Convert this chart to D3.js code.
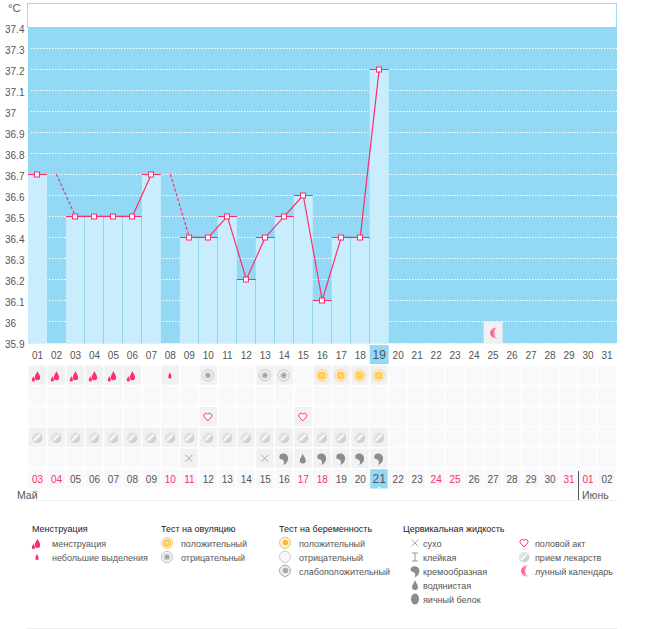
<!DOCTYPE html>
<html>
<head>
<meta charset="utf-8">
<script src="https://cdnjs.cloudflare.com/ajax/libs/d3/7.8.5/d3.min.js"></script>
<style>
html, body { margin: 0; padding: 0; background: #fff; }
svg { display: block; }
text { font-family: "Liberation Sans", sans-serif; font-size: 10px; fill: #555; }
text.legend { font-size: 9px; }
</style>
</head>
<body>
<div id="chart"></div>
<script>
// chart data
var days = d3.range(1, 32);
var dayLabels = ['01','02','03','04','05','06','07','08','09','10','11','12','13','14','15','16','17','18','19','20','21','22','23','24','25','26','27','28','29','30','31'];
var dateLabels = ['03','04','05','06','07','08','09','10','11','12','13','14','15','16','17','18','19','20','21','22','23','24','25','26','27','28','29','30','31','01','02'];
var redDates = ['03','04','10','11','17','18','24','25','31','01'];
var temps = [36.7,null,36.5,36.5,36.5,36.5,36.7,null,36.4,36.4,36.5,36.2,36.4,36.5,36.6,36.1,36.4,36.4,37.2];
var tempTicks = [37.4,37.3,37.2,37.1,37,36.9,36.8,36.7,36.6,36.5,36.4,36.3,36.2,36.1,36,35.9];
var gridTicks = [37.3,37.2,37.1,37,36.9,36.8,36.7,36.6,36.5,36.4,36.3,36.2,36.1,36,35.9];
var currentDay = 19;
var moonDays = [25];

// icon rows below the chart: [day, icon]
var rowOvulation = [[1,'menses'],[2,'menses'],[3,'menses'],[4,'menses'],[5,'menses'],[6,'menses'],[8,'spot'],[10,'ovNeg'],[13,'ovNeg'],[14,'ovNeg'],[16,'ovPos'],[17,'ovPos'],[18,'ovPos'],[19,'ovPos']];
var rowPregnancy = [];
var rowSex = [[10,'heart'],[15,'heart']];
var rowPills = d3.range(1, 20).map(function(d) { return [d, 'pill']; });
var rowFluid = [[9,'dry'],[13,'dry'],[14,'cream'],[15,'water'],[16,'cream'],[17,'cream'],[18,'cream'],[19,'cream']];

var legendGroups = [
    { title: 'Менструация', x: 32, iconX: 37, textX: 52, items: [['menses','менструация'],['spot','небольшие выделения']] },
    { title: 'Тест на овуляцию', x: 161, iconX: 167, textX: 181, items: [['ovPos','положительный'],['ovNeg','отрицательный']] },
    { title: 'Тест на беременность', x: 279, iconX: 285, textX: 299, items: [['pregPos','положительный'],['pregNeg','отрицательный'],['pregWeak','слабоположительный']] },
    { title: 'Цервикальная жидкость', x: 403, iconX: 415, textX: 423, items: [['dry','сухо'],['sticky','клейкая'],['cream','кремообразная'],['water','водянистая'],['egg','яичный белок']] },
    { title: '', x: 524, iconX: 524, textX: 535, items: [['heart','половой акт'],['pill','прием лекарств'],['moon','лунный календарь']] }
];

var pink = '#ff2d6b',
    sky = '#93d9f6',
    barBlue = '#caedfe',
    sepBlue = '#8fd5ee';

var svg = d3.select('#chart').append('svg').attr('width', 655).attr('height', 629);

// gradients for the round icons
var defs = svg.append('defs');
function radial(id, inner, outer) {
    var g = defs.append('radialGradient').attr('id', id);
    g.append('stop').attr('offset', '0%').attr('stop-color', inner);
    g.append('stop').attr('offset', '100%').attr('stop-color', outer);
}
radial('ovPosFill', '#ffe28c', '#ffbf42');
radial('ovNegFill', '#8f8f8f', '#dcdcdc');
var pillFill = defs.append('linearGradient').attr('id', 'pillFill').attr('x1', 0).attr('y1', 0).attr('x2', 1).attr('y2', 1);
pillFill.append('stop').attr('offset', '0%').attr('stop-color', '#f0f0f0');
pillFill.append('stop').attr('offset', '100%').attr('stop-color', '#c4c4c4');
var moonFill = defs.append('linearGradient').attr('id', 'moonFill');
moonFill.append('stop').attr('offset', '0%').attr('stop-color', '#ff3f78');
moonFill.append('stop').attr('offset', '100%').attr('stop-color', '#ffc4d6');

var x = d3.scaleBand().domain(days).range([28, 616.5]);
var y = d3.scaleLinear().domain([37.4, 35.9]).range([27, 342.5]);
var cx = function(d) { return x(d) + x.bandwidth() / 2; };

// plot background
svg.append('rect').attr('x', 27.5).attr('y', 3.5).attr('width', 589).attr('height', 24).attr('fill', '#fff').attr('stroke', '#9cdcf6');
svg.append('rect').attr('x', 28).attr('y', y(37.4)).attr('width', 589).attr('height', y(35.9) - y(37.4) + 1).attr('fill', sky);

svg.append('g').selectAll('line').data(gridTicks).join('line')
    .attr('x1', 31).attr('x2', 617)
    .attr('y1', function(d) { return Math.round(y(d)) + 0.5; })
    .attr('y2', function(d) { return Math.round(y(d)) + 0.5; })
    .attr('stroke', '#fff').attr('stroke-dasharray', '1.5 1.5');

// temperature labels
svg.append('g').selectAll('text').data(tempTicks).join('text')
    .attr('x', 5).attr('y', function(d) { return y(d) + 5.5; })
    .text(function(d) { return d; });
svg.append('text').attr('x', 8).attr('y', 12).style('font-size', '11px').text('°C');

// bars
var known = temps.map(function(t, i) { return { day: i + 1, t: t }; }).filter(function(d) { return d.t !== null; });
svg.append('g').selectAll('rect').data(known).join('rect')
    .attr('x', function(d) { return x(d.day); })
    .attr('y', function(d) { return y(d.t); })
    .attr('width', x.bandwidth())
    .attr('height', function(d) { return y(35.9) - y(d.t) + 1; })
    .attr('fill', barBlue);
svg.append('g').selectAll('line').data(known.filter(function(d) { return temps[d.day] !== null && temps[d.day] !== undefined; })).join('line')
    .attr('x1', function(d) { return Math.round(x(d.day + 1)) - 0.5; })
    .attr('x2', function(d) { return Math.round(x(d.day + 1)) - 0.5; })
    .attr('y1', function(d) { return y(Math.min(d.t, temps[d.day])); })
    .attr('y2', y(35.9) + 1)
    .attr('stroke', sepBlue);

// line with dashed pieces across the skipped days
var segments = [];
known.forEach(function(d, i) {
    var next = known[i + 1];
    if (!next) return;
    if (next.day === d.day + 1) {
        segments.push({ x1: cx(d.day), y1: y(d.t), x2: cx(next.day), y2: y(next.t), dash: null });
    } else {
        segments.push({ x1: cx(d.day + 1), y1: y(d.t), x2: cx(next.day), y2: y(next.t), dash: '3 2' });
    }
});
svg.append('g').selectAll('line').data(segments).join('line')
    .attr('x1', function(d) { return d.x1; }).attr('y1', function(d) { return d.y1; })
    .attr('x2', function(d) { return d.x2; }).attr('y2', function(d) { return d.y2; })
    .attr('stroke', pink).attr('stroke-width', 1.2)
    .attr('stroke-dasharray', function(d) { return d.dash; });

svg.append('g').selectAll('line').data(known).join('line')
    .attr('x1', function(d) { return x(d.day); })
    .attr('x2', function(d) { return x(d.day) + x.bandwidth(); })
    .attr('y1', function(d) { return Math.round(y(d.t)) + 0.5; })
    .attr('y2', function(d) { return Math.round(y(d.t)) + 0.5; })
    .attr('stroke', pink);

svg.append('g').selectAll('rect').data(known).join('rect')
    .attr('x', function(d) { return Math.round(cx(d.day)) - 2.5; })
    .attr('y', function(d) { return Math.round(y(d.t)) - 2; })
    .attr('width', 5).attr('height', 5)
    .attr('fill', '#fff').attr('stroke', pink);

// icons, all drawn around 0,0
var icons = {
    menses: function(g) {
        g.append('path').attr('d', 'M0.5,-4.5C1,-2.5 3.2,-0.8 3.2,2.2A2.7,2.7 0 0 1 -2.2,2.2C-2.2,-0.5 0,-2.5 0.5,-4.5Z').attr('fill', pink);
        g.append('path').attr('d', 'M-3.5,0.5C-3.2,2 -2,2.8 -2,4.6A1.6,1.6 0 0 1 -5.2,4.6C-5.2,2.8 -3.8,2 -3.5,0.5Z').attr('fill', pink);
    },
    spot: function(g) {
        g.append('path').attr('d', 'M0,-3.5C0.3,-2 1.6,-0.5 1.6,1.5A1.6,1.6 0 0 1 -1.6,1.5C-1.6,-0.5 -0.3,-2 0,-3.5Z').attr('fill', pink);
    },
    ovPos: function(g) {
        g.append('circle').attr('r', 5.6).attr('fill', '#fff8e4').attr('stroke', '#f8cf80');
        g.append('circle').attr('r', 4).attr('fill', 'url(#ovPosFill)');
    },
    ovNeg: function(g) {
        g.append('circle').attr('r', 5.6).attr('fill', '#f6f6f6').attr('stroke', '#c4c4c4');
        g.append('circle').attr('r', 3.6).attr('fill', 'url(#ovNegFill)');
    },
    pregPos: function(g) {
        g.append('path').attr('d', 'M0,6L-4,3.5A5.5,5.5 0 1 1 4,3.5Z').attr('fill', '#fff2cf').attr('stroke', '#f2c264');
        g.append('circle').attr('cx', 0.5).attr('cy', -0.5).attr('r', 2.8).attr('fill', '#f8b83e');
    },
    pregNeg: function(g) {
        g.append('path').attr('d', 'M0,6L-4,3.5A5.5,5.5 0 1 1 4,3.5Z').attr('fill', '#f8f8f8').attr('stroke', '#ccc');
    },
    pregWeak: function(g) {
        g.append('path').attr('d', 'M0,6L-4,3.5A5.5,5.5 0 1 1 4,3.5Z').attr('fill', '#eee').attr('stroke', '#aaa');
        g.append('circle').attr('cx', 0.5).attr('cy', -0.5).attr('r', 2.8).attr('fill', '#aaa');
    },
    heart: function(g) {
        g.append('path').attr('d', 'M0,4L-3.6,0A2.1,2.1 0 0 1 0,-2.6A2.1,2.1 0 0 1 3.6,0Z').attr('fill', '#fff').attr('stroke', pink);
    },
    pill: function(g) {
        g.append('circle').attr('r', 5.4).attr('fill', 'url(#pillFill)');
        g.append('line').attr('x1', -3).attr('y1', 3).attr('x2', 3).attr('y2', -3).attr('stroke', '#fff').attr('stroke-width', 1.6);
    },
    dry: function(g) {
        g.append('path').attr('d', 'M-3.5,-3.5L3.5,3.5M3.5,-3.5L-3.5,3.5').attr('stroke', '#aaa').attr('fill', 'none');
    },
    sticky: function(g) {
        g.append('path').attr('d', 'M-3,-4H3M0,-4V4M-3,4H3').attr('stroke', '#999').attr('fill', 'none');
    },
    cream: function(g) {
        g.append('path').attr('d', 'M-4.5,-1.5C-4.5,-5 1,-6 3.5,-3C5.5,0 4,5 -0.5,6.5C1,4 0,1.5 -1.5,1C-3,1 -4.5,0 -4.5,-1.5Z').attr('fill', '#8c8c8c');
    },
    water: function(g) {
        g.append('path').attr('d', 'M0,-5C0.5,-2.5 3,-0.5 3,2A3,3 0 0 1 -3,2C-3,-0.5 -0.5,-2.5 0,-5Z').attr('fill', '#8c8c8c');
    },
    egg: function(g) {
        g.append('ellipse').attr('rx', 4).attr('ry', 5.5).attr('fill', '#8c8c8c');
    },
    moon: function(g) {
        g.append('path').attr('d', 'M4,-5.2A5.4,5.4 0 1 0 4,5.2C0.5,3.5 0.5,-3.5 4,-5.2Z').attr('fill', 'url(#moonFill)');
    }
};

function drawIcon(sel, name, px, py) {
    var g = sel.append('g').attr('transform', 'translate(' + px + ',' + py + ')');
    icons[name](g);
}

// moon cell inside the chart
moonDays.forEach(function(d) {
    svg.append('rect').attr('x', x(d)).attr('y', y(36)).attr('width', x.bandwidth()).attr('height', y(35.9) - y(36) + 1).attr('fill', '#f1f1f3');
    drawIcon(svg, 'moon', cx(d), y(35.95) + 1);
});

// day labels
svg.append('rect').attr('x', x(currentDay)).attr('y', 345).attr('width', x.bandwidth()).attr('height', 19).attr('fill', sky);
svg.append('g').selectAll('text').data(days).join('text')
    .attr('x', cx).attr('y', 358.5).attr('text-anchor', 'middle')
    .style('font-size', function(d) { return d === currentDay ? '12px' : null; })
    .text(function(d) { return dayLabels[d - 1]; });

// icon rows
var rows = [rowOvulation, rowPregnancy, rowSex, rowPills, rowFluid];
var rowY = d3.scaleBand().domain(d3.range(6)).range([365.5, 490]);
rows.forEach(function(row, r) {
    var used = {};
    row.forEach(function(e) { used[e[0]] = e[1]; });
    svg.append('g').selectAll('rect').data(days).join('rect')
        .attr('x', function(d) { return x(d) + 0.5; })
        .attr('y', rowY(r))
        .attr('width', x.bandwidth() - 1.5).attr('height', rowY.bandwidth() - 1.5)
        .attr('fill', function(d) { return used[d] ? '#f1f1f3' : '#f9f8fa'; });
    row.forEach(function(e) {
        drawIcon(svg, e[1], cx(e[0]) - 0.5, rowY(r) + rowY.bandwidth() / 2 - 0.5);
    });
});

// calendar dates row
svg.append('g').selectAll('rect').data(days).join('rect')
    .attr('x', function(d) { return x(d) + 0.5; })
    .attr('y', rowY(5))
    .attr('width', x.bandwidth() - 1.5).attr('height', rowY.bandwidth() - 1.5)
    .attr('fill', function(d) { return d === currentDay ? sky : '#f9f8fa'; });
svg.append('g').selectAll('text').data(days).join('text')
    .attr('x', cx).attr('y', 482.5).attr('text-anchor', 'middle')
    .style('fill', function(d) { return redDates.indexOf(dateLabels[d - 1]) >= 0 ? pink : null; })
    .style('font-size', function(d) { return d === currentDay ? '12px' : null; })
    .text(function(d) { return dateLabels[d - 1]; });

// small notch under the current date
svg.append('path')
    .attr('d', d3.line()([[cx(currentDay) - 2, rowY(5) + rowY.bandwidth() - 1.5], [cx(currentDay), rowY(5) + rowY.bandwidth() - 3.5], [cx(currentDay) + 2, rowY(5) + rowY.bandwidth() - 1.5]]))
    .attr('fill', '#fff');

svg.append('line').attr('x1', 578.5).attr('x2', 578.5).attr('y1', 471).attr('y2', 500).attr('stroke', '#555');
svg.append('line').attr('x1', 36).attr('x2', 617).attr('y1', 500.5).attr('y2', 500.5).attr('stroke', '#eee');
svg.append('text').attr('x', 17).attr('y', 499).style('font-size', '10.5px').text('Май');
svg.append('text').attr('x', 582).attr('y', 499).style('font-size', '10.5px').text('Июнь');

// legend
legendGroups.forEach(function(grp) {
    if (grp.title) {
        svg.append('text').attr('class', 'legend').attr('x', grp.x).attr('y', 532).style('fill', '#222').text(grp.title);
    }
    grp.items.forEach(function(item, i) {
        drawIcon(svg, item[0], grp.iconX, 543 + i * 14);
        svg.append('text').attr('class', 'legend').attr('x', grp.textX).attr('y', 546.5 + i * 14).text(item[1]);
    });
});

svg.append('line').attr('x1', 26).attr('x2', 617).attr('y1', 628.5).attr('y2', 628.5).attr('stroke', '#eee');
</script>
</body>
</html>
